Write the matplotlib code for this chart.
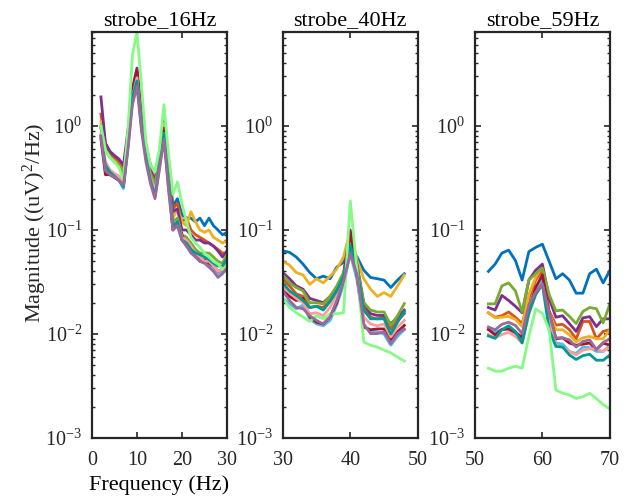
import numpy as np
import matplotlib
matplotlib.use("Agg")
import matplotlib.pyplot as plt
from matplotlib.ticker import LogLocator, NullFormatter

plt.rcParams['font.family'] = ['Liberation Serif', 'DejaVu Serif']
plt.rcParams['mathtext.fontset'] = 'custom'
plt.rcParams['mathtext.rm'] = 'Liberation Serif'
plt.rcParams['mathtext.it'] = 'Liberation Serif:italic'
plt.rcParams['mathtext.bf'] = 'Liberation Serif:bold'

# --- data ---
names = ['blue', 'orange', 'yellow', 'purple', 'olive', 'lightblue',
         'darkred', 'pink', 'teal', 'lightgreen', 'mauve']
colors = ['#0072BD', '#D95319', '#EDB120', '#7E2F8E', '#77AC30', '#4DBEEE',
          '#A2142F', '#FF9C9C', '#009A96', '#85FA85', '#9A6A9A']

f16 = [2, 3, 4, 5, 6, 7, 8, 9, 10, 11, 12, 13, 14, 15, 16, 17, 18, 19, 20,
       21, 22, 23, 24, 25, 26, 27, 28, 29, 30]
p16 = {
    'blue':       [0.95, 0.62, 0.52, 0.48, 0.44, 0.36, 0.8, 2.0, 3.2, 1.3, 0.65, 0.42, 0.35, 0.55, 1.2, 0.45, 0.17, 0.2, 0.14, 0.13, 0.13, 0.12, 0.13, 0.11, 0.13, 0.11, 0.1, 0.09, 0.095],
    'orange':     [1.3, 0.68, 0.55, 0.5, 0.45, 0.37, 0.8, 2.1, 3.3, 1.2, 0.6, 0.4, 0.32, 0.5, 1.0, 0.4, 0.16, 0.18, 0.12, 0.13, 0.1, 0.09, 0.085, 0.08, 0.075, 0.07, 0.065, 0.06, 0.06],
    'yellow':     [1.1, 0.58, 0.5, 0.46, 0.42, 0.35, 0.75, 2.0, 3.1, 1.2, 0.62, 0.4, 0.33, 0.55, 1.05, 0.38, 0.13, 0.16, 0.12, 0.11, 0.15, 0.12, 0.1, 0.095, 0.1, 0.085, 0.08, 0.075, 0.078],
    'purple':     [1.9, 0.68, 0.57, 0.52, 0.48, 0.42, 0.9, 2.3, 3.6, 1.3, 0.62, 0.38, 0.3, 0.5, 0.95, 0.35, 0.15, 0.16, 0.1, 0.1, 0.09, 0.08, 0.08, 0.075, 0.075, 0.07, 0.063, 0.055, 0.063],
    'olive':      [1.0, 0.6, 0.5, 0.45, 0.42, 0.34, 0.75, 2.0, 3.0, 1.1, 0.55, 0.35, 0.28, 0.45, 0.9, 0.3, 0.12, 0.13, 0.09, 0.085, 0.075, 0.065, 0.06, 0.06, 0.06, 0.055, 0.05, 0.048, 0.058],
    'lightblue':  [0.8, 0.4, 0.34, 0.32, 0.3, 0.25, 0.6, 1.8, 2.8, 1.0, 0.5, 0.3, 0.21, 0.4, 0.8, 0.25, 0.1, 0.11, 0.08, 0.075, 0.065, 0.055, 0.05, 0.048, 0.048, 0.042, 0.038, 0.04, 0.046],
    'darkred':    [0.75, 0.34, 0.34, 0.32, 0.3, 0.27, 0.7, 2.2, 3.4, 1.1, 0.5, 0.3, 0.22, 0.45, 0.9, 0.3, 0.1, 0.12, 0.09, 0.07, 0.065, 0.06, 0.05, 0.052, 0.048, 0.045, 0.04, 0.042, 0.05],
    'pink':       [0.85, 0.45, 0.38, 0.35, 0.33, 0.28, 0.65, 1.9, 2.9, 1.0, 0.5, 0.32, 0.23, 0.42, 0.85, 0.28, 0.11, 0.12, 0.085, 0.08, 0.07, 0.06, 0.055, 0.05, 0.05, 0.045, 0.04, 0.042, 0.05],
    'teal':       [0.8, 0.42, 0.36, 0.33, 0.3, 0.26, 0.65, 1.9, 2.7, 1.0, 0.5, 0.3, 0.21, 0.42, 0.85, 0.28, 0.11, 0.12, 0.08, 0.075, 0.065, 0.06, 0.058, 0.055, 0.052, 0.048, 0.045, 0.045, 0.053],
    'lightgreen': [1.0, 0.58, 0.5, 0.45, 0.4, 0.3, 0.9, 4.8, 8.0, 2.5, 0.7, 0.42, 0.36, 0.6, 1.6, 0.55, 0.22, 0.29, 0.18, 0.12, 0.085, 0.075, 0.068, 0.06, 0.055, 0.05, 0.047, 0.042, 0.045],
    'mauve':      [0.8, 0.37, 0.34, 0.32, 0.3, 0.27, 0.6, 1.6, 2.4, 0.9, 0.45, 0.28, 0.2, 0.38, 0.75, 0.25, 0.1, 0.11, 0.08, 0.07, 0.06, 0.055, 0.05, 0.048, 0.044, 0.04, 0.035, 0.038, 0.043],
}

f40 = [30, 31, 32, 33, 34, 35, 36, 37, 38, 39, 40, 41, 42, 43, 44, 45, 46, 47, 48]
p40 = {
    'blue':       [0.063, 0.061, 0.055, 0.047, 0.039, 0.034, 0.036, 0.034, 0.044, 0.049, 0.066, 0.055, 0.041, 0.035, 0.034, 0.033, 0.028, 0.033, 0.038],
    'orange':     [0.034, 0.029, 0.0243, 0.023, 0.018, 0.0185, 0.018, 0.021, 0.026, 0.037, 0.095, 0.046, 0.0185, 0.0145, 0.014, 0.0145, 0.0112, 0.0135, 0.0157],
    'yellow':     [0.05, 0.046, 0.039, 0.037, 0.03, 0.034, 0.031, 0.036, 0.042, 0.055, 0.1, 0.051, 0.034, 0.027, 0.023, 0.025, 0.023, 0.029, 0.037],
    'purple':     [0.039, 0.034, 0.029, 0.027, 0.022, 0.021, 0.02, 0.023, 0.028, 0.038, 0.1, 0.046, 0.02, 0.0157, 0.0151, 0.0151, 0.0125, 0.0146, 0.017],
    'olive':      [0.037, 0.031, 0.028, 0.026, 0.02, 0.02, 0.0195, 0.023, 0.029, 0.039, 0.059, 0.044, 0.02, 0.017, 0.0163, 0.0163, 0.0121, 0.015, 0.0196],
    'lightblue':  [0.022, 0.0195, 0.0175, 0.019, 0.014, 0.0125, 0.012, 0.0135, 0.019, 0.03, 0.059, 0.033, 0.012, 0.0105, 0.0105, 0.01, 0.0078, 0.0095, 0.011],
    'darkred':    [0.027, 0.023, 0.021, 0.022, 0.0146, 0.013, 0.0125, 0.0146, 0.02, 0.033, 0.095, 0.036, 0.0117, 0.011, 0.0112, 0.0112, 0.0087, 0.0105, 0.0121],
    'pink':       [0.028, 0.025, 0.022, 0.02, 0.0157, 0.016, 0.015, 0.018, 0.024, 0.035, 0.068, 0.04, 0.0146, 0.0125, 0.012, 0.0125, 0.0094, 0.0117, 0.0135],
    'teal':       [0.031, 0.026, 0.0235, 0.021, 0.018, 0.0185, 0.017, 0.0205, 0.026, 0.036, 0.071, 0.042, 0.017, 0.014, 0.014, 0.014, 0.01, 0.013, 0.0163],
    'lightgreen': [0.022, 0.018, 0.016, 0.0146, 0.0132, 0.015, 0.014, 0.0157, 0.0157, 0.016, 0.19, 0.04, 0.0084, 0.0078, 0.0075, 0.007, 0.0066, 0.006, 0.0055],
    'mauve':      [0.026, 0.021, 0.018, 0.0175, 0.015, 0.0135, 0.0125, 0.0146, 0.021, 0.032, 0.06, 0.037, 0.0125, 0.0101, 0.0101, 0.0105, 0.0081, 0.0101, 0.0112],
}

f59 = [52, 53, 54, 55, 56, 57, 58, 59, 60, 61, 62, 63, 64, 65, 66, 67, 68, 69, 70]
p59 = {
    'blue':       [0.04, 0.047, 0.06, 0.064, 0.051, 0.033, 0.062, 0.068, 0.073, 0.05, 0.034, 0.038, 0.033, 0.0247, 0.0247, 0.038, 0.042, 0.031, 0.041],
    'orange':     [0.016, 0.0145, 0.015, 0.0163, 0.0145, 0.0126, 0.022, 0.033, 0.041, 0.0167, 0.0122, 0.0124, 0.011, 0.009, 0.0132, 0.0132, 0.009, 0.0106, 0.011],
    'yellow':     [0.016, 0.0143, 0.0145, 0.0148, 0.0138, 0.0118, 0.024, 0.035, 0.045, 0.016, 0.011, 0.011, 0.0098, 0.0084, 0.0092, 0.0095, 0.009, 0.009, 0.011],
    'purple':     [0.018, 0.017, 0.0235, 0.021, 0.0185, 0.016, 0.033, 0.041, 0.047, 0.022, 0.0145, 0.015, 0.0126, 0.0106, 0.0143, 0.0147, 0.0118, 0.014, 0.014],
    'olive':      [0.0195, 0.0195, 0.029, 0.031, 0.026, 0.0163, 0.033, 0.038, 0.043, 0.024, 0.0167, 0.017, 0.0148, 0.0126, 0.0165, 0.018, 0.0175, 0.0128, 0.0195],
    'lightblue':  [0.011, 0.0105, 0.011, 0.0112, 0.0098, 0.0088, 0.0165, 0.025, 0.033, 0.013, 0.0082, 0.008, 0.0068, 0.0065, 0.0075, 0.0074, 0.0068, 0.0068, 0.0078],
    'darkred':    [0.0111, 0.0098, 0.0111, 0.0112, 0.0104, 0.0093, 0.0175, 0.028, 0.037, 0.016, 0.009, 0.0092, 0.0082, 0.0078, 0.008, 0.0082, 0.0071, 0.0082, 0.0078],
    'pink':       [0.0099, 0.0092, 0.0099, 0.0104, 0.0095, 0.0082, 0.0155, 0.024, 0.03, 0.013, 0.0078, 0.0075, 0.0068, 0.0063, 0.007, 0.0072, 0.0072, 0.0068, 0.0076],
    'teal':       [0.0096, 0.0091, 0.011, 0.012, 0.0106, 0.0082, 0.016, 0.024, 0.03, 0.011, 0.0076, 0.0075, 0.0063, 0.0057, 0.0062, 0.0064, 0.0056, 0.0056, 0.0063],
    'lightgreen': [0.0047, 0.0044, 0.0044, 0.0047, 0.0049, 0.0047, 0.0095, 0.0174, 0.0158, 0.011, 0.0029, 0.0027, 0.0026, 0.0024, 0.0025, 0.0027, 0.0024, 0.0021, 0.0019],
    'mauve':      [0.0117, 0.011, 0.0124, 0.013, 0.0121, 0.0101, 0.019, 0.0253, 0.03, 0.016, 0.0092, 0.0092, 0.0088, 0.0075, 0.0085, 0.0088, 0.0071, 0.0083, 0.009],
}

panels = [
    ('strobe_16Hz', f16, p16, (0, 30), [0, 10, 20, 30]),
    ('strobe_40Hz', f40, p40, (30, 50), [30, 40, 50]),
    ('strobe_59Hz', f59, p59, (50, 70), [50, 60, 70]),
]

fig = plt.figure(figsize=(6.34, 4.99), dpi=100)
lefts = [0.145, 0.446, 0.749]
axes = []
for left, (title, freq, series, xlim, xt) in zip(lefts, panels):
    ax = fig.add_axes([left, 0.122, 0.213, 0.814])
    for nm, col in zip(names, colors):
        ax.plot(freq, series[nm], color=col, lw=2.0)
    ax.set_yscale('log')
    ax.set_ylim(1e-3, 8)
    ax.set_xlim(*xlim)
    ax.set_xticks(xt)
    ax.set_yticks([1e-3, 1e-2, 1e-1, 1e0])
    ax.yaxis.set_minor_locator(LogLocator(base=10, subs=np.arange(2, 10)))
    ax.yaxis.set_minor_formatter(NullFormatter())
    ax.tick_params(which='both', direction='in', top=True, right=True,
                   labelsize=14.5, color='#262626', labelcolor='#262626')
    ax.tick_params(axis='x', pad=9)
    ax.tick_params(axis='y', pad=7)
    ax.tick_params(which='major', length=4, width=1.2)
    ax.tick_params(which='minor', length=2.2, width=1.0)
    for sp in ax.spines.values():
        sp.set_linewidth(1.6)
        sp.set_color('#262626')
    ax.set_title(title, fontsize=16, pad=5, color='#000000')
    axes.append(ax)

axes[0].set_xlabel('Frequency (Hz)', fontsize=16, labelpad=4)
fig.text(0.055, 0.553, 'Magnitude ((uV)$^2$/Hz)', rotation=90, fontsize=16,
         ha='center', va='center', color='#262626')

fig.savefig('out.png', dpi=100)
